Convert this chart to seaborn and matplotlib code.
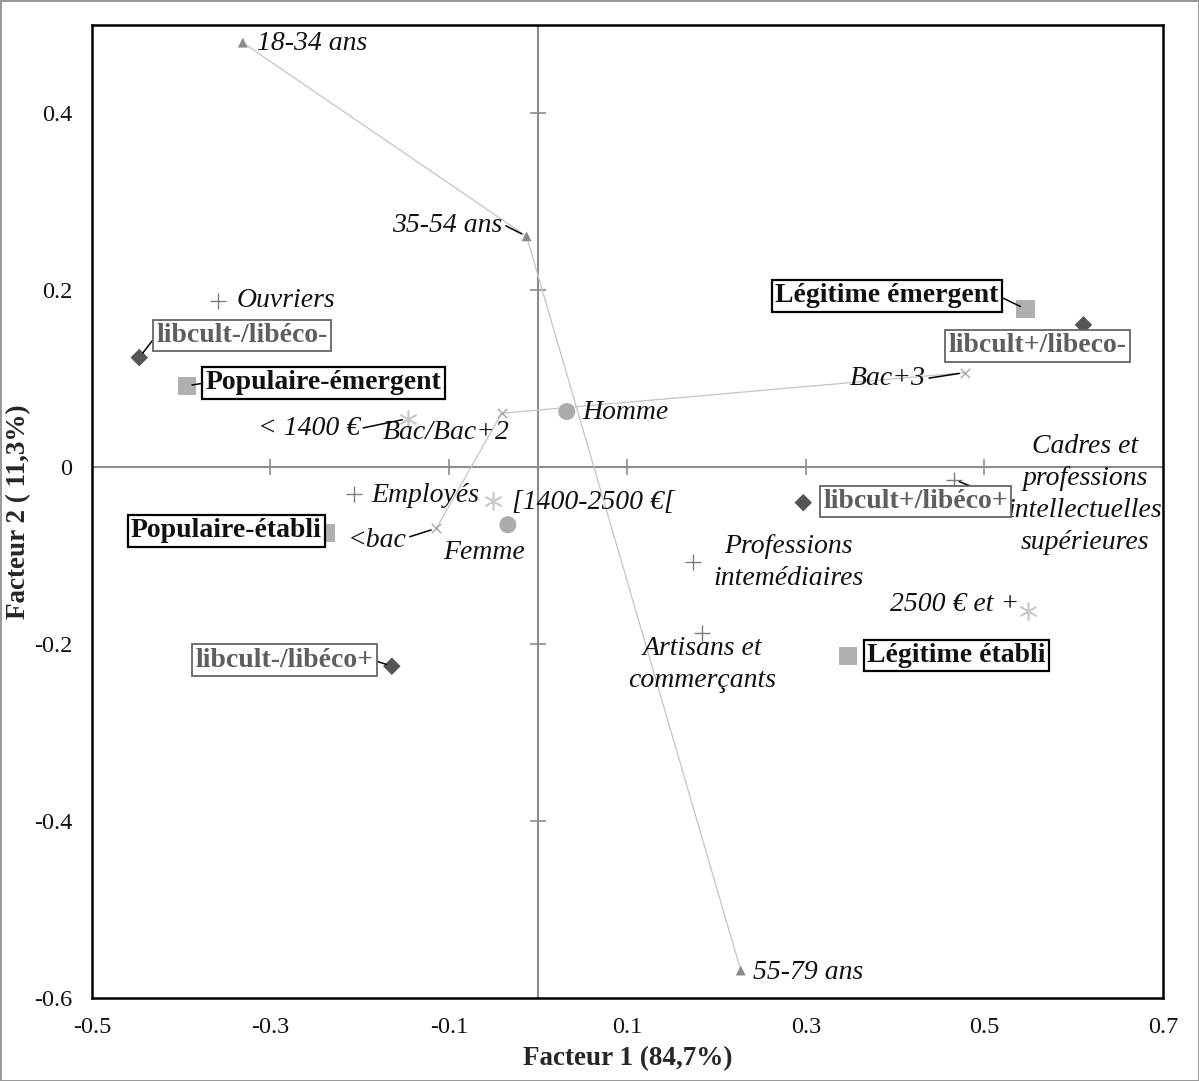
import matplotlib
matplotlib.use("Agg")
import matplotlib.pyplot as plt
import seaborn as sns

# ---------------------------------------------------------------------------
# Data (coordinates on the two factorial axes)
# ---------------------------------------------------------------------------

AGE_LABELS = ["18-34 ans", "35-54 ans", "55-79 ans"]
AGE_X = [-0.331, -0.013, 0.227]
AGE_Y = [0.480, 0.261, -0.569]

SEX_LABELS = ["Homme", "Femme"]
SEX_X = [0.032, -0.034]
SEX_Y = [0.063, -0.065]

EDU_LABELS = ["<bac", "Bac/Bac+2", "Bac+3"]
EDU_X = [-0.114, -0.041, 0.478]
EDU_Y = [-0.069, 0.061, 0.107]

INC_LABELS = ["< 1400 €", "[1400-2500 €[", "2500 € et +"]
INC_X = [-0.146, -0.051, 0.549]
INC_Y = [0.055, -0.038, -0.162]

PCS_LABELS = ["Ouvriers", "Employés", "Professions\nintemédiaires",
              "Artisans et\ncommerçants",
              "Cadres et\nprofessions\nintellectuelles\nsupérieures"]
PCS_X = [-0.359, -0.206, 0.174, 0.183, 0.466]
PCS_Y = [0.188, -0.030, -0.107, -0.187, -0.014]

TYPO_LABELS = ["Légitime émergent", "Populaire-émergent", "Populaire-établi",
               "Légitime établi"]
TYPO_X = [0.546, -0.394, -0.238, 0.347]
TYPO_Y = [0.179, 0.092, -0.074, -0.213]

LIB_LABELS = ["libcult-/libéco-", "libcult+/libeco-", "libcult+/libéco+",
              "libcult-/libéco+"]
LIB_X = [-0.447, 0.611, 0.297, -0.164]
LIB_Y = [0.124, 0.161, -0.040, -0.225]

X_TICKS = [-0.5, -0.3, -0.1, 0.1, 0.3, 0.5, 0.7]
Y_TICKS = [-0.6, -0.4, -0.2, 0, 0.2, 0.4]
Y_TICK_LABELS = ["-0.6", "-0.4", "-0.2", "0", "0.2", "0.4"]
INNER_X_TICKS = [-0.3, -0.1, 0.1, 0.3, 0.5]
INNER_Y_TICKS = [-0.4, -0.2, 0.2, 0.4]

# label layout: offset in pixels (dx, dy), alignment, leader anchor (relpos)
LAYOUT = {
    "18-34 ans": (14, -1, "left", None),
    "35-54 ans": (-24, 11, "right", (1, 0.55)),
    "55-79 ans": (12, -2, "left", None),
    "Homme": (16, -1, "left", None),
    "Femme": (-65, -28, "left", None),
    "<bac": (-30, -12, "right", (1, 0.6)),
    "Bac/Bac+2": (-119, -19, "left", None),
    "Bac+3": (-39, -6, "right", (1, 0.5)),
    "< 1400 €": (-48, -10, "right", (1, 0.5)),
    "[1400-2500 €[": (19, -2, "left", None),
    "2500 € et +": (-9, 6, "right", None),
    "Ouvriers": (19, 0, "left", None),
    "Employés": (17, -2, "left", None),
    "Professions\nintemédiaires": (95, -1, "center", None),
    "Artisans et\ncommerçants": (1, -32, "center", None),
    "Cadres et\nprofessions\nintellectuelles\nsupérieures": (131, -15, "center", (0, 0.45)),
    "Légitime émergent": (-27, 13, "right", (1, 0.5)),
    "Populaire-émergent": (19, 3, "left", (0, 0.5)),
    "Populaire-établi": (-4, 2, "right", None),
    "Légitime établi": (19, 0, "left", None),
    "libcult-/libéco-": (17, 22, "left", (0, 0.5)),
    "libcult+/libeco-": (-46, -21, "center", None),
    "libcult+/libéco+": (20, 1, "left", None),
    "libcult-/libéco+": (-18, 6, "right", (1, 0.5)),
}

sns.set_style("white")
plt.rcParams["font.family"] = ["Liberation Serif", "DejaVu Serif"]

fig = plt.figure(figsize=(11.99, 10.81), dpi=100)
fig.patch.set_edgecolor("#9a9a9a")
fig.patch.set_linewidth(2)
ax = fig.add_axes([0.0767, 0.0768, 0.8932, 0.9001])

# inner cross axes with their tick marks
ax.axhline(0, color="#8c8c8c", lw=1.5, zorder=1)
ax.axvline(0, color="#8c8c8c", lw=1.5, zorder=1)
ax.plot(INNER_X_TICKS, [0] * len(INNER_X_TICKS), ls="none", marker="|",
        ms=12, mew=1.2, color="#8c8c8c", zorder=1)
ax.plot([0] * len(INNER_Y_TICKS), INNER_Y_TICKS, ls="none", marker="_",
        ms=12, mew=1.2, color="#8c8c8c", zorder=1)

# connecting lines
sns.lineplot(x=AGE_X, y=AGE_Y, sort=False, estimator=None, color="#c4c4c4",
             lw=0.9, ax=ax, zorder=2)
sns.lineplot(x=EDU_X, y=EDU_Y, sort=False, estimator=None, color="#c4c4c4",
             lw=0.9, ax=ax, zorder=2)

# markers
sns.scatterplot(x=AGE_X, y=AGE_Y, marker="^", s=50, color="#8a8a8a",
                edgecolor="none", ax=ax, zorder=3)
sns.scatterplot(x=SEX_X, y=SEX_Y, marker="o", s=150, color="#ababab",
                edgecolor="none", ax=ax, zorder=3)
sns.scatterplot(x=EDU_X, y=EDU_Y, marker="x", s=45, color="#a8a8a8",
                linewidth=1, ax=ax, zorder=3)
sns.scatterplot(x=INC_X, y=INC_Y, marker=(6, 2, 0), s=150, color="#cacaca",
                linewidth=1.2, ax=ax, zorder=3)
sns.scatterplot(x=PCS_X, y=PCS_Y, marker="+", s=130, color="#7c7c7c",
                linewidth=1, ax=ax, zorder=3)
sns.scatterplot(x=TYPO_X, y=TYPO_Y, marker="s", s=170, color="#b0b0b0",
                edgecolor="none", ax=ax, zorder=3)
sns.scatterplot(x=LIB_X, y=LIB_Y, marker="D", s=80, color="#555555",
                edgecolor="none", ax=ax, zorder=3)


def put_labels(labels, xs, ys, style, size=20, color="#111111", box=None):
    for lab, x, y in zip(labels, xs, ys):
        dx, dy, ha, relpos = LAYOUT[lab]
        kw = {}
        if relpos is not None:
            kw["arrowprops"] = dict(arrowstyle="-", color="black", lw=1.1,
                                    relpos=relpos, shrinkA=0, shrinkB=4)
        ax.annotate(lab, xy=(x, y), xytext=(dx, dy), textcoords="offset pixels",
                    ha=ha, va="center", multialignment="center",
                    fontsize=size, color=color, linespacing=1.37,
                    bbox=box, zorder=5, **kw)
        last = ax.texts[-1]
        if style == "italic":
            last.set_style("italic")
        elif style == "bold":
            last.set_weight("bold")


put_labels(AGE_LABELS, AGE_X, AGE_Y, "italic")
put_labels(SEX_LABELS, SEX_X, SEX_Y, "italic")
put_labels(EDU_LABELS, EDU_X, EDU_Y, "italic")
put_labels(INC_LABELS, INC_X, INC_Y, "italic")
put_labels(PCS_LABELS, PCS_X, PCS_Y, "italic")
put_labels(TYPO_LABELS, TYPO_X, TYPO_Y, "bold",
           box=dict(boxstyle="square,pad=0.12", fc="white", ec="black", lw=1.6))
put_labels(LIB_LABELS, LIB_X, LIB_Y, "bold", color="#5e5e5e",
           box=dict(boxstyle="square,pad=0.12", fc="white", ec="#666666", lw=1.3))

# outer frame and ticks
ax.set_xlim(-0.5, 0.7)
ax.set_ylim(-0.6, 0.5)
ax.set_xticks(X_TICKS)
ax.set_xticklabels([f"{t:g}" for t in X_TICKS])
ax.set_yticks(Y_TICKS)
ax.set_yticklabels(Y_TICK_LABELS)
ax.tick_params(length=0, labelsize=17.5, pad=14, colors="#111111")
for sp in ax.spines.values():
    sp.set_color("black")
    sp.set_linewidth(1.8)

ax.set_xlabel("Facteur 1 (84,7%)", fontsize=19.5, fontweight="bold")
ax.set_ylabel("Facteur 2 ( 11,3%)", fontsize=19.5, fontweight="bold")
ax.xaxis.set_label_coords(0.5, -0.049)
ax.yaxis.set_label_coords(-0.057, 0.5)

fig.savefig("out.png", dpi=100)
